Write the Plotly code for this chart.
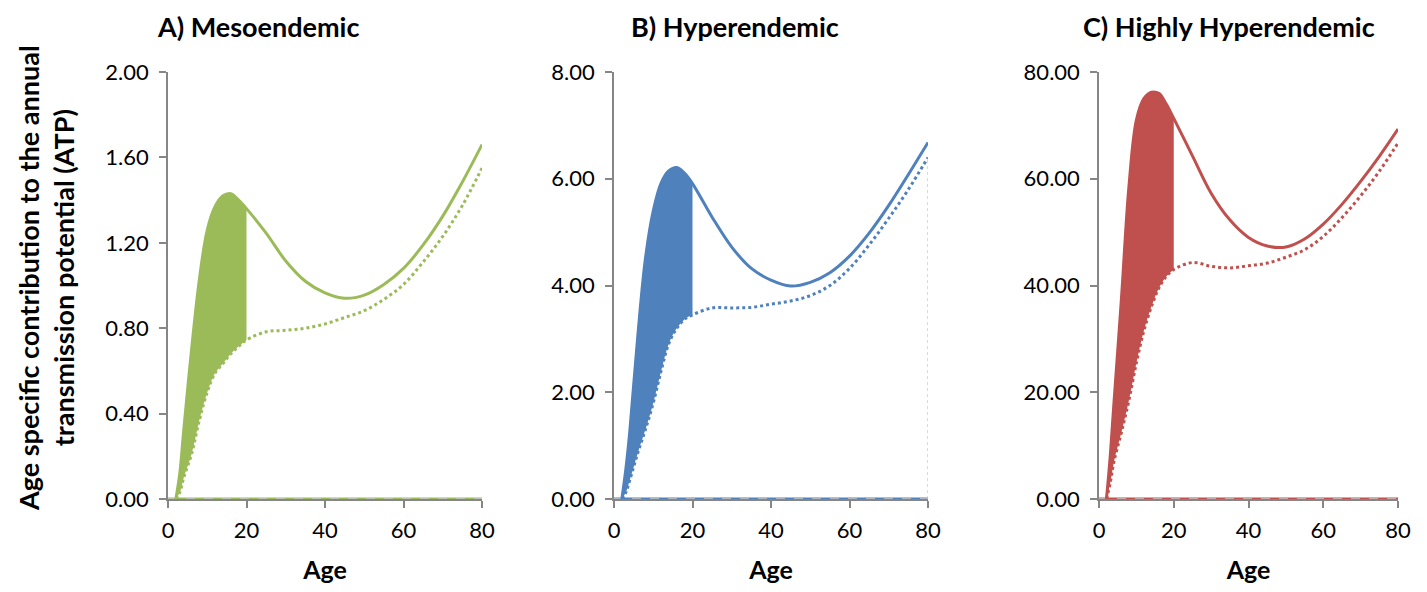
import plotly.graph_objects as go
from plotly.subplots import make_subplots

ages = [2, 3, 4, 6, 8, 10, 12, 14, 16, 18, 20, 25, 30, 35, 40, 45, 50, 55, 60, 65, 70, 75, 80]

# A) Mesoendemic
meso_total = [0.0, 0.12, 0.32, 0.70, 1.03, 1.26, 1.37, 1.42, 1.43, 1.40, 1.36, 1.245, 1.115,
              1.02, 0.965, 0.94, 0.955, 1.005, 1.08, 1.19, 1.325, 1.485, 1.66]
meso_base = [0.0, 0.03, 0.10, 0.21, 0.37, 0.50, 0.59, 0.635, 0.68, 0.715, 0.745, 0.783, 0.79,
             0.80, 0.82, 0.85, 0.882, 0.935, 1.005, 1.11, 1.23, 1.375, 1.55]

# B) Hyperendemic
hyper_total = [0.0, 0.55, 1.25, 3.0, 4.5, 5.4, 5.92, 6.15, 6.21, 6.10, 5.91, 5.28, 4.72,
               4.32, 4.10, 3.99, 4.06, 4.24, 4.55, 4.98, 5.50, 6.08, 6.68]
hyper_base = [0.0, 0.12, 0.35, 0.85, 1.30, 1.80, 2.40, 2.92, 3.20, 3.37, 3.45, 3.58, 3.58,
              3.59, 3.65, 3.71, 3.81, 4.00, 4.32, 4.76, 5.26, 5.80, 6.40]

# C) Highly Hyperendemic
high_total = [0.0, 8.0, 18.0, 37.5, 58.5, 71.0, 75.0, 76.2, 76.0, 74.0, 71.3, 64.3, 57.3,
              52.3, 49.0, 47.4, 47.2, 48.7, 51.5, 55.2, 59.5, 64.2, 69.3]
high_base = [0.0, 3.0, 7.0, 12.5, 18.5, 25.5, 31.5, 36.0, 39.5, 41.7, 43.0, 44.3, 43.6,
             43.3, 43.7, 44.2, 45.3, 46.7, 49.2, 52.7, 56.8, 61.4, 66.7]

titles = ["A) Mesoendemic", "B) Hyperendemic", "C) Highly Hyperendemic"]
colors = ["#9BBB59", "#4F81BD", "#C0504D"]
ymax = [2.0, 8.0, 80.0]
ytick_vals = [[0, 0.4, 0.8, 1.2, 1.6, 2.0], [0, 2, 4, 6, 8], [0, 20, 40, 60, 80]]
x_ticks = [0, 20, 40, 60, 80]
fill_until = 20

panels = [(meso_total, meso_base), (hyper_total, hyper_base), (high_total, high_base)]

FONT = "Lato, 'Open Sans', sans-serif"

# page body has an 8px margin, so the figure is sized to fit inside it
W, H, OFF = 1411, 576, 8


def px_x(p):
    return (p - OFF) / W


def px_y(p):
    return (H + OFF - p) / H


fig = make_subplots(rows=1, cols=3)

for i, (tot, base) in enumerate(panels):
    col = i + 1
    c = colors[i]
    n_fill = ages.index(fill_until) + 1
    # shaded area between the two curves up to age 20
    fig.add_trace(go.Scatter(x=ages[:n_fill], y=base[:n_fill], mode="lines",
                             line=dict(color=c, width=0, shape="spline"),
                             showlegend=False, hoverinfo="skip"), row=1, col=col)
    fig.add_trace(go.Scatter(x=ages[:n_fill], y=tot[:n_fill], mode="lines",
                             line=dict(color=c, width=0, shape="spline"),
                             fill="tonexty", fillcolor=c,
                             showlegend=False, hoverinfo="skip"), row=1, col=col)
    # zero series along the axis
    fig.add_trace(go.Scatter(x=[0, 80], y=[0, 0], mode="lines",
                             line=dict(color=c, width=3), cliponaxis=False,
                             showlegend=False), row=1, col=col)
    fig.add_trace(go.Scatter(x=[0, 80], y=[0, 0], mode="lines",
                             line=dict(color="#c8c8c8", width=1.5, dash="dash"), cliponaxis=False,
                             showlegend=False), row=1, col=col)
    # curves
    fig.add_trace(go.Scatter(x=ages, y=base, mode="lines",
                             line=dict(color=c, width=3, dash="dot", shape="spline"),
                             cliponaxis=False, showlegend=False), row=1, col=col)
    fig.add_trace(go.Scatter(x=ages, y=tot, mode="lines",
                             line=dict(color=c, width=3, shape="spline"),
                             cliponaxis=False, showlegend=False), row=1, col=col)

# thin drop line at age 80 in panel B
fig.add_trace(go.Scatter(x=[80, 80], y=[0, hyper_base[-1]], mode="lines",
                         line=dict(color="#a9c6e8", width=1.2, dash="dot"),
                         showlegend=False), row=1, col=2)

x_domains = [[px_x(168), px_x(482)], [px_x(614), px_x(928)], [px_x(1099), px_x(1398)]]
y_domain = [px_y(499), px_y(72)]
title_x = [258, 735, 1229]

axis_common = dict(showline=True, linecolor="#868686", linewidth=1.5, ticks="outside",
                   tickcolor="#868686", ticklen=7, tickwidth=1.5, showgrid=False,
                   zeroline=False, automargin=False,
                   tickfont=dict(family=FONT, size=22, color="black"))

for i in range(3):
    fig.update_xaxes(domain=x_domains[i], range=[0, 80], tickvals=x_ticks,
                     ticklabelstandoff=4,
                     title=dict(text="<b>Age</b>", font=dict(family=FONT, size=25, color="black"),
                                standoff=24),
                     row=1, col=i + 1, **axis_common)
    fig.update_yaxes(domain=y_domain, range=[0, ymax[i]], tickvals=ytick_vals[i],
                     tickformat=".2f", ticklabelstandoff=6,
                     row=1, col=i + 1, **axis_common)
    fig.add_annotation(text="<b>" + titles[i] + "</b>", xref="paper", yref="paper",
                       x=px_x(title_x[i]), y=px_y(26), xanchor="center", yanchor="middle",
                       borderpad=0, showarrow=False,
                       font=dict(family=FONT, size=27, color="black"))

fig.add_annotation(text="<b>Age specific contribution to the annual<br>transmission potential (ATP)</b>",
                   xref="paper", yref="paper", x=px_x(46), y=px_y(278),
                   xanchor="center", yanchor="middle", textangle=-90, showarrow=False,
                   borderpad=0, font=dict(family=FONT, size=27, color="black"))

fig.update_layout(width=W, height=H, margin=dict(l=0, r=0, t=0, b=0),
                  plot_bgcolor="white", paper_bgcolor="white", showlegend=False,
                  font=dict(family=FONT))

fig.write_html("out.html")
